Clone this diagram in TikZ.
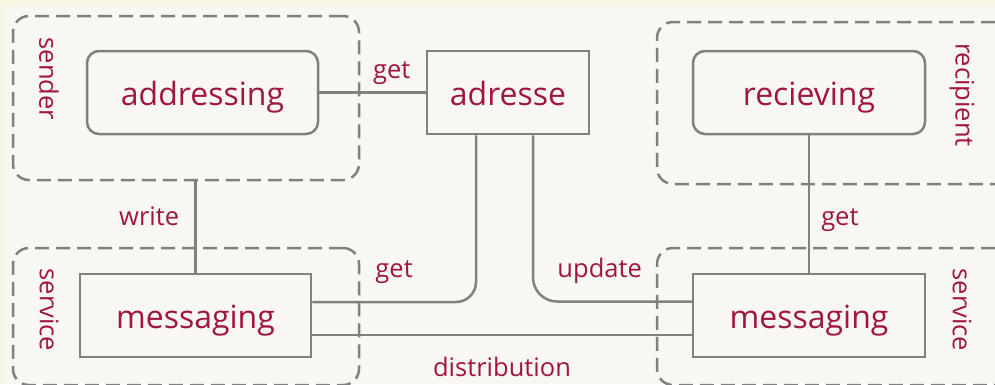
\documentclass[tikz,border=0pt]{standalone}
\usepackage{fontspec}
\setmainfont{Open Sans}
\usepackage{xcolor}
\usetikzlibrary{positioning}
\definecolor{labelcol}{RGB}{160,22,64}
\definecolor{linecol}{RGB}{128,128,128}
\definecolor{bgcol}{RGB}{248,247,242}
\definecolor{edgecol}{RGB}{247,246,226}
\tikzset{
  box/.style={draw=linecol, line width=2.5pt, rectangle, minimum width=231pt, minimum height=83pt,
    text=labelcol, font=\fontsize{32}{38}\selectfont, text height=25pt, text depth=0pt},
  roundbox/.style={box, rounded corners=12pt},
  group/.style={draw=linecol, line width=2.5pt, dash pattern=on 14pt off 7pt, rounded corners=16pt, inner sep=0pt},
  lbl/.style={text=labelcol, font=\fontsize{25.5}{30}\selectfont, inner sep=3pt},
  link/.style={draw=linecol, line width=2.5pt}
}

\begin{document}
\begin{tikzpicture}[x=1pt, y=-1pt]
                % Background
                \fill[edgecol] (0,0) rectangle (995,384);
                \fill[bgcol] (5,6) rectangle (995,384);
                \useasboundingbox (0,0) rectangle (995,384);

                % Groups
                \node [group, minimum width=346pt, minimum height=164pt] (sender) at (186,98) {};
                \node [group, minimum width=354pt, minimum height=162pt] (recipient) at (834,103) {};
                \node [group, minimum width=346pt, minimum height=137pt] (serviceL) at (186,316.5) {};
                \node [group, minimum width=354pt, minimum height=137pt] (serviceR) at (834,316.5) {};
                \node [lbl, rotate=-90] (senderlbl) at (49,79) {sender};
                \node [lbl, rotate=-90] (recipientlbl) at (962,95) {recipient};
                \node [lbl, rotate=-90] (serviceLlbl) at (49,310) {service};
                \node [lbl, rotate=-90] (serviceRlbl) at (962,310) {service};

                % Nodes
                \node [roundbox] (addressing) at (202.5,92.5) {addressing};
                \node [box, minimum width=162pt] (adresse) at (508,92.5) {adresse};
                \node [roundbox, minimum width=232pt] (recieving) at (809,92.5) {recieving};
                \node [box] (msgL) at (195.5,315.5) {messaging};
                \node [box, minimum width=232pt] (msgR) at (809,315.5) {messaging};

                % Connectors
                \draw[link] (addressing) -- node[lbl, above=4pt, pos=0.68] {get} (adresse);
                \draw[link] (msgL.north) -- node[lbl, left=12pt, pos=0.62] {write} (msgL.north |- sender.south);
                \draw[link, rounded corners=20pt] ([yshift=13.5pt]msgL.east) -| node[lbl, above=14pt, pos=0.25] {get} ([xshift=-32pt]adresse.south);
                \draw[link, rounded corners=24pt] ([xshift=25pt]adresse.south) |- node[lbl, above=14pt, pos=0.71] {update} ([yshift=14pt]msgR.west);
                \draw[link] ([yshift=-19.5pt]msgL.east) -- node[lbl, below=18pt] {distribution} ([yshift=-19.5pt]msgR.west);
                \draw[link] (recieving) -- node[lbl, right=8pt, pos=0.62] {get} (msgR);
\end{tikzpicture}
\end{document}
